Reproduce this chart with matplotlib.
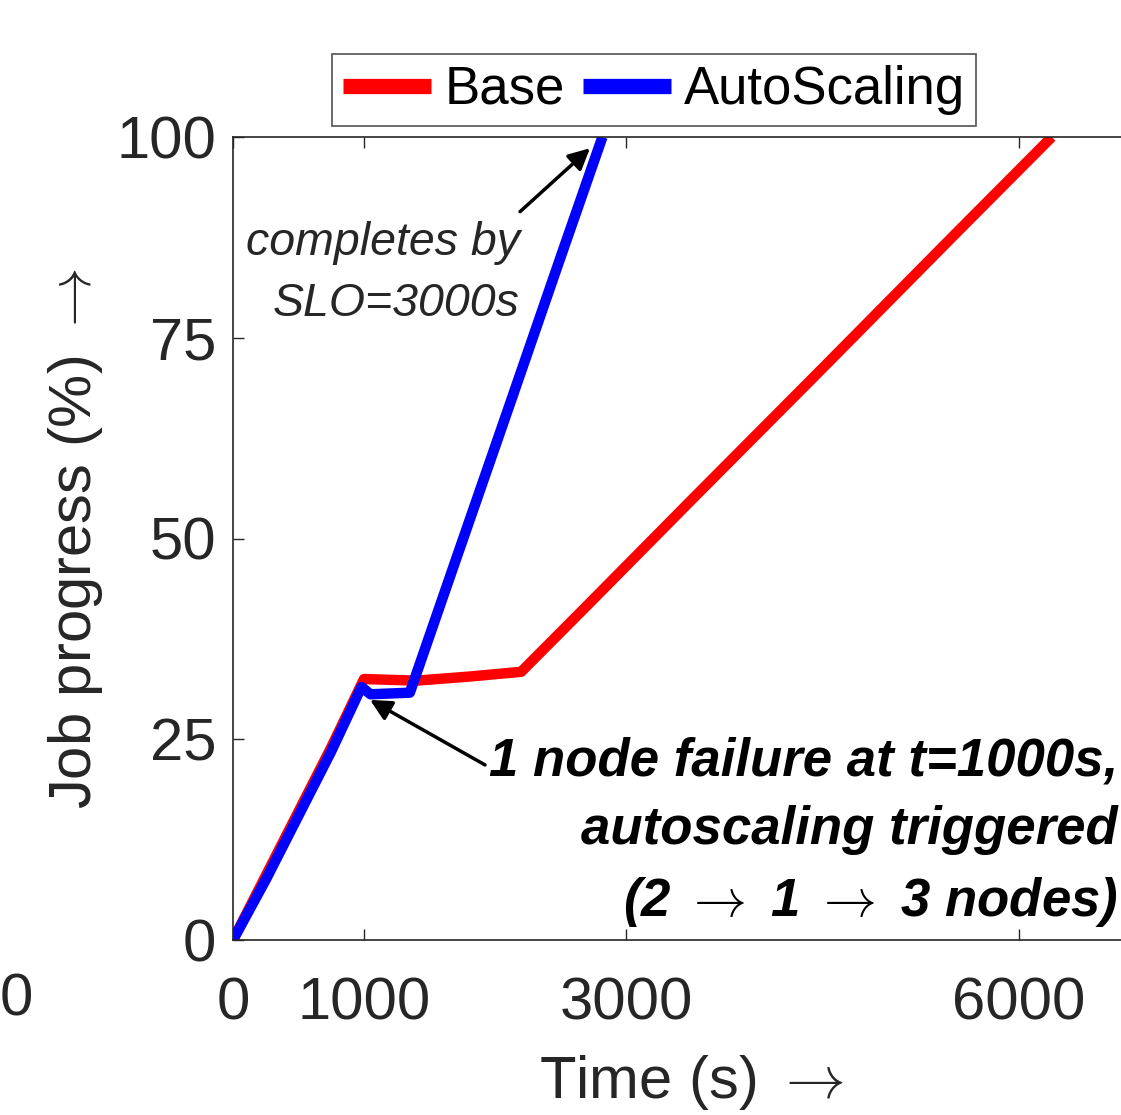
import matplotlib.pyplot as plt

plt.rcParams['font.family'] = ['Liberation Sans', 'DejaVu Sans']
plt.rcParams['mathtext.fontset'] = 'cm'

# progress curves (time in s, progress in %)
base_t = [0, 250, 500, 750, 1000, 1400, 1800, 2200, 2700, 3500, 4500, 5500, 6250]
base_p = [0, 8, 16, 24, 32.5, 32.3, 32.8, 33.4, 41.6, 54.8, 71.2, 87.7, 100]
auto_t = [0, 250, 500, 750, 980, 1050, 1350, 1700, 2100, 2500, 2820]
auto_p = [0, 7.5, 15.5, 23.5, 31.5, 30.6, 30.8, 47.3, 66.1, 85, 100]

xticks = [0, 1000, 3000, 6000]
yticks = [0, 25, 50, 75, 100]

W, H = 1121, 1115
fig = plt.figure(figsize=(W / 100, H / 100), dpi=100)
px = 0.131  # pixels per second on the time axis
ax = fig.add_axes([233 / W, (H - 940) / H, 7000 * px / W, 803 / H])

ax.plot(base_t, base_p, color='red', lw=7.5, label='Base', solid_capstyle='butt')
ax.plot(auto_t, auto_p, color='blue', lw=7.5, label='AutoScaling', solid_capstyle='butt')

ax.set_xlim(0, 7000)
ax.set_ylim(0, 100)
ax.set_xticks(xticks)
ax.set_yticks(yticks)
ax.tick_params(direction='in', length=8, width=1, colors='#262626',
               labelsize=43, top=True, right=True)
ax.tick_params(axis='x', pad=26)
ax.tick_params(axis='y', pad=12)
for s in ax.spines.values():
    s.set_color('#262626')
    s.set_linewidth(1.2)

ax.set_xlabel('Time (s) $\\rightarrow$', fontsize=43, color='#262626', labelpad=16)
ax.set_ylabel('Job progress (%) $\\rightarrow$', fontsize=43, color='#262626', labelpad=8)

arrow = dict(arrowstyle='-|>', color='black', lw=2.5, mutation_scale=32,
             shrinkA=0, shrinkB=0)
ax.annotate('', xy=(2725, 98.6), xytext=(2191, 90.7), arrowprops=arrow)
ax.text(2191, 83.0, 'completes by\nSLO=3000s', fontsize=33.5, style='italic',
        ha='right', va='center', color='#262626', linespacing=1.5)

ax.annotate('', xy=(1046, 29.9), xytext=(1924, 21.8), arrowprops=arrow)
ax.text(6756, 13.4, '1 node failure at t=1000s,\nautoscaling triggered\n'
        '(2 $\\rightarrow$ 1 $\\rightarrow$ 3 nodes)',
        fontsize=38, style='italic', weight='bold', ha='right', va='center',
        color='black', linespacing=1.48)

fig.text(0, (H - 1000) / H, '0', fontsize=43, color='#262626', va='center')

leg = fig.legend(loc='center', bbox_to_anchor=(654 / W, (H - 90) / H), ncol=2,
                 fontsize=38, frameon=True, fancybox=False, edgecolor='#262626',
                 handlelength=1.67, handletextpad=0.25, columnspacing=0.34,
                 borderpad=0.2, borderaxespad=0)
leg.get_frame().set_linewidth(1.2)
for h in leg.get_lines():
    h.set_linewidth(11)

fig.savefig('out.png', dpi=100)
